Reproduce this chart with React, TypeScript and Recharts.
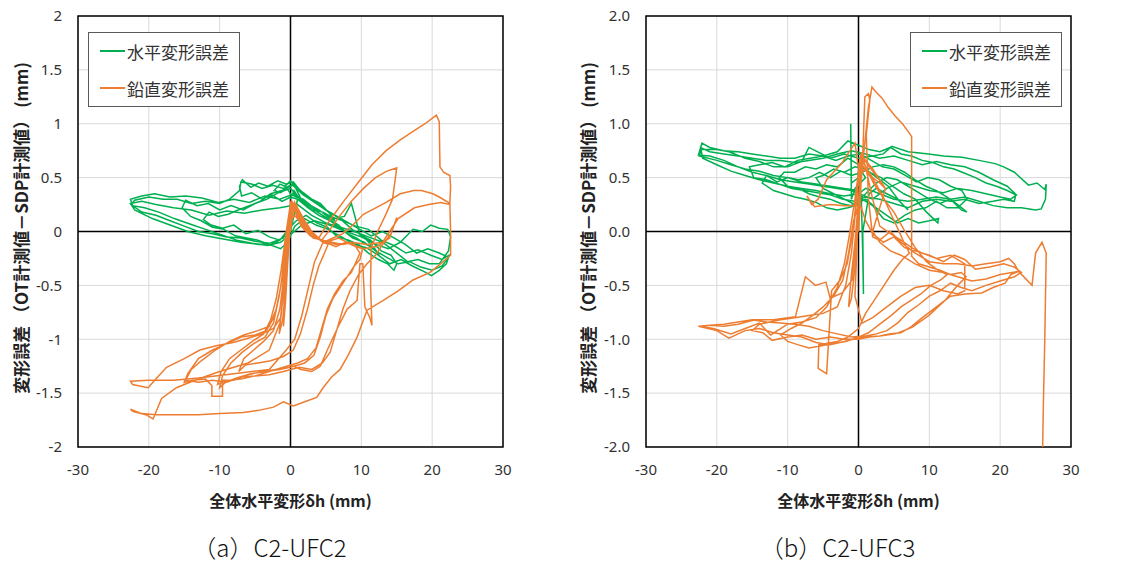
import React from 'react';
import {
  ScatterChart, Scatter, XAxis, YAxis, CartesianGrid,
  ReferenceLine, ReferenceArea
} from 'recharts';

const GREEN = '#00B050';
const ORANGE = '#ED7D31';

const xTicks = [-30, -20, -10, 0, 10, 20, 30];
const yTicks = [-2, -1.5, -1, -0.5, 0, 0.5, 1, 1.5, 2];
const legendLabels = ['水平変形誤差', '鉛直変形誤差'];
const captions = ['（a）C2-UFC2', '（b）C2-UFC3'];
const xTitle = '全体水平変形δh (mm)';
const yTitle = '変形誤差 （OT計測値－SDP計測値） (mm)';

type Pt = [number, number];

// (a) C2-UFC2 horizontal error
const ufc2Horizontal: Pt[] = [
  [0, 0.3], [0.5, 0.38], [1, 0.33], [1.8, 0.28], [2.5, 0.24], [1.5, 0.3], [0.6, 0.42], [0, 0.47], [-0.8, 0.42], [-1.5, 0.44], [-2.3, 0.38], [-1.4, 0.36], [-0.5, 0.4], [0, 0.35],
  [0.8, 0.32], [1.8, 0.3], [2.9, 0.24], [4, 0.2], [5.2, 0.14], [6.3, 0.1], [5.5, 0.17], [4.2, 0.26], [3, 0.3], [1.6, 0.36], [0.4, 0.46], [-0.6, 0.44], [-1.8, 0.47], [-3.2, 0.42], [-4.5, 0.45], [-5.6, 0.41], [-6.8, 0.48], [-7.2, 0.42], [-6.9, 0.33], [-5.5, 0.36], [-4, 0.3], [-2.6, 0.34], [-1.2, 0.28], [0, 0.32],
  [1, 0.3], [2.4, 0.26], [3.8, 0.18], [5.3, 0.12], [6.8, 0.06], [8, -0.02], [9.3, -0.06], [10.6, -0.12], [11.8, -0.15], [12.5, -0.22], [11.6, -0.14], [10.2, -0.04], [8.7, 0.02], [7, 0.12], [5.4, 0.18], [3.6, 0.26], [1.8, 0.34], [0.3, 0.43], [-1.2, 0.38], [-2.8, 0.35], [-4.3, 0.28], [-5.8, 0.24], [-7.4, 0.2], [-8.8, 0.16], [-10.2, 0.14], [-11.5, 0.18], [-12.3, 0.11], [-11.2, 0.06], [-9.6, 0.03], [-8, 0.06], [-6.3, -0.02], [-4.6, 0.01], [-3, -0.05], [-1.5, -0.08], [-0.3, 0.02],
  [0.8, 0.1], [2.2, 0.15], [3.7, 0.08], [5.2, 0.04], [6.6, -0.05], [8.2, -0.08], [9.6, -0.12], [11, -0.2], [12.4, -0.26], [13.7, -0.3], [14.6, -0.36], [15, -0.3], [14.2, -0.22], [12.8, -0.18], [11.3, -0.08], [9.8, -0.03], [8.6, 0.26], [7.6, 0.14], [6.2, 0.12], [4.6, 0.18], [3.1, 0.2], [1.4, 0.3], [0, 0.4], [-1.7, 0.36], [-3.3, 0.3], [-5, 0.26], [-6.7, 0.2], [-8.4, 0.24], [-10, 0.2], [-11.6, 0.26], [-13.2, 0.24], [-14.8, 0.29], [-15.3, 0.22], [-14.1, 0.14], [-12.6, 0.1], [-11, 0.04], [-9.4, 0.02], [-7.8, -0.04], [-6.2, -0.06], [-4.6, -0.08], [-3, -0.12], [-1.4, -0.16], [-0.4, -0.1],
  [0.6, 0.05], [2, 0.12], [3.6, 0.06], [5.3, 0.02], [7.2, -0.05], [9, -0.12], [10.7, -0.15], [12.4, -0.22], [14, -0.3], [15.6, -0.26], [17.2, -0.32], [18.8, -0.37], [19.9, -0.41], [21, -0.36], [22, -0.3], [22.4, -0.22], [21.4, -0.26], [19.8, -0.22], [18, -0.17], [16.3, -0.2], [14.6, -0.13], [12.8, -0.08], [11, 0.02], [9.2, 0.05], [7.4, 0.1], [5.6, 0.14], [3.8, 0.2], [2, 0.28], [0.5, 0.35], [-1.5, 0.3], [-3.6, 0.33], [-5.8, 0.27], [-8, 0.3], [-10.2, 0.27], [-12.5, 0.31], [-14.8, 0.33], [-17, 0.32], [-19.2, 0.35], [-21, 0.33], [-22.6, 0.3], [-22.3, 0.24], [-20.6, 0.22], [-18.6, 0.18], [-16.4, 0.12], [-14.2, 0.07], [-12, 0.02], [-9.8, -0.03], [-7.6, -0.08], [-5.4, -0.11], [-3.2, -0.13], [-1.4, -0.1], [0, -0.03],
  [1.6, 0.06], [3.4, 0.1], [5.5, 0.06], [7.8, 0], [10, -0.05], [12, -0.12], [13.8, -0.16], [15.5, -0.1], [17.3, 0.02], [18.6, 0], [19.8, 0.06], [21, 0.03], [22.2, 0.02], [22.6, -0.05], [22.3, -0.18], [21, -0.3], [19.6, -0.3], [18, -0.26], [16.5, -0.28], [15, -0.2], [13, -0.1], [11, -0.05], [9, 0], [7, 0.04], [5, 0.08], [3, 0.15], [1, 0.25], [-1.5, 0.22], [-4, 0.2], [-6.5, 0.17], [-9, 0.19], [-11.5, 0.15], [-14, 0.2], [-16.5, 0.22], [-19, 0.25], [-21, 0.28], [-22.6, 0.26], [-22, 0.2], [-19.5, 0.12], [-17, 0.06], [-14.5, 0], [-12, -0.04], [-9.5, -0.07], [-7, -0.1], [-4.5, -0.12], [-2, -0.1], [0, 0],
  [1, 0.3], [2.5, 0.22], [4, 0.15], [5.6, 0.1], [7.2, 0.02], [8.8, -0.06], [10.4, -0.1], [12, -0.18], [13.6, -0.24], [15.2, -0.3], [16.8, -0.28], [18.4, -0.33], [20, -0.36], [21.4, -0.32], [22.3, -0.24], [21, -0.2], [19.4, -0.16], [17.8, -0.2], [16.2, -0.12], [14.6, -0.06], [13, 0], [11.4, -0.04], [9.8, 0.02], [8.2, 0.08], [6.6, 0.14], [5, 0.2], [3.4, 0.28], [1.8, 0.36], [0.4, 0.44], [-1, 0.4], [-2.5, 0.43], [-4, 0.4], [-5.5, 0.44], [-7, 0.46], [-7.2, 0.38], [-8.6, 0.3], [-10, 0.26], [-12, 0.28], [-14, 0.26], [-16, 0.3], [-18, 0.3], [-20, 0.32], [-22, 0.29], [-22.5, 0.25], [-21, 0.18], [-19, 0.15], [-17, 0.1], [-15, 0.05], [-13, 0], [-11, -0.02], [-9, -0.05], [-7, -0.06], [-5, -0.09], [-3, -0.11], [-1, -0.06], [0, 0.05],
];

// (a) C2-UFC2 vertical error
const ufc2Vertical: Pt[] = [
  [0, 0], [0.3, 0.15], [0.6, 0.27], [1, 0.2], [1.6, 0.08], [2.2, 0], [1.5, 0.05], [0.8, 0.2], [0.3, 0.25], [-0.2, 0], [-0.5, -0.3], [-0.8, -0.6], [-1.1, -0.82], [-1.6, -0.95], [-1.2, -0.7], [-0.7, -0.35], [-0.2, 0.05], [0.2, 0.28],
  [0.4, 0.22], [1.2, 0.1], [0.6, 0.15], [0, 0.1], [-0.4, -0.3], [-0.7, -0.65], [-1, -0.88], [-0.6, -0.5], [-0.2, -0.1], [0.2, 0.28],
  [0.8, 0.22], [1.6, 0.1], [2.5, 0.02], [3.5, -0.05], [4.6, -0.1], [5.3, -0.12], [4.8, -0.2], [4, -0.32], [3.2, -0.5], [2.4, -0.72], [1.4, -0.95], [0.4, -1.1], [-1, -1.16], [-2.8, -1.2], [-4.6, -1.22], [-6.4, -1.24], [-7.3, -1.3], [-6.6, -1.18], [-5.2, -1.1], [-3.8, -1.02], [-2.4, -0.92], [-1.5, -0.72], [-1, -0.45], [-0.5, -0.1], [0, 0.25],
  [0.8, 0.25], [1.6, 0.12], [2.6, 0.02], [3.8, -0.06], [5, -0.1], [6.4, -0.14], [7.8, -0.1], [9.2, -0.14], [10.2, -0.16], [9.8, -0.26], [9, -0.32], [8.2, -0.4], [7.2, -0.5], [6, -0.62], [5, -0.78], [4.2, -0.98], [3.3, -1.15], [2, -1.22], [0.5, -1.25], [-1.5, -1.28], [-3.5, -1.3], [-5.6, -1.32], [-7.6, -1.36], [-9.2, -1.4], [-10, -1.45], [-9.6, -1.34], [-8.4, -1.22], [-6.8, -1.12], [-5.2, -1.04], [-3.6, -0.98], [-2.4, -0.85], [-1.6, -0.6], [-0.9, -0.3], [-0.3, 0.05], [0.1, 0.27],
  [0.6, 0.2], [1.5, 0.05], [2.8, -0.04], [4.2, -0.08], [5.8, -0.1], [7.4, -0.12], [8.8, -0.1], [9.8, -0.2], [8.6, -0.38], [7.4, -0.46], [6.2, -0.58], [5.2, -0.72], [4.4, -0.9], [3.6, -1.08], [2.4, -1.18], [1, -1.22], [-1, -1.26], [-3, -1.3], [-5, -1.34], [-7, -1.37], [-9, -1.38], [-10.3, -1.42], [-9.8, -1.3], [-8.6, -1.18], [-7, -1.1], [-5.4, -1.02], [-3.8, -0.95], [-2.8, -0.82], [-2, -0.62], [-1.3, -0.35], [-0.6, 0], [0, 0.26],
  [0.7, 0.22], [1.8, 0.08], [3, -0.02], [4.4, -0.08], [5.6, 0.02], [7, 0.15], [8.6, 0.28], [10.3, 0.4], [12, 0.5], [13.6, 0.56], [15, 0.59], [14.4, 0.3], [13.4, 0.15], [12.3, 0], [11.4, -0.15], [11.3, -0.5], [11.5, -0.87], [11.2, -0.8], [10.5, -0.7], [10.2, -0.3], [9.8, -0.3], [9.4, -0.64], [8, -0.72], [6.6, -0.9], [5.2, -1.1], [4.2, -1.25], [3, -1.3], [1.5, -1.28], [0, -1.24], [-2, -1.28], [-4, -1.3], [-6, -1.33], [-8, -1.38], [-9.6, -1.38], [-9.6, -1.53], [-11.1, -1.53], [-11.1, -1.43], [-12, -1.37], [-13.8, -1.38], [-15, -1.4], [-14.5, -1.32], [-13, -1.18], [-11, -1.1], [-9, -1.04], [-7, -0.98], [-5, -0.96], [-3.4, -0.92], [-2.2, -0.78], [-1.4, -0.52], [-0.8, -0.2], [-0.2, 0.15], [0.2, 0.28],
  [0.8, 0.2], [2, 0.04], [3.4, -0.06], [5, -0.1], [6.8, -0.06], [8.6, -0.12], [10.4, -0.16], [12.2, -0.14], [14, -0.06], [15, 0.13], [14.2, -0.02], [13, -0.12], [12, -0.22], [10.8, -0.3], [9.6, -0.4], [8.4, -0.55], [7.4, -0.72], [6.5, -0.92], [5.6, -1.12], [4.5, -1.22], [3, -1.28], [1.2, -1.26], [-1, -1.3], [-3, -1.33], [-5, -1.34], [-7, -1.35], [-9, -1.4], [-11, -1.38], [-13, -1.4], [-14.8, -1.38], [-14, -1.28], [-12.6, -1.2], [-10.6, -1.1], [-8.6, -1.02], [-6.6, -0.96], [-4.6, -0.92], [-3, -0.88], [-2, -0.72], [-1.2, -0.45], [-0.6, -0.1], [0, 0.27],
  [0.8, 0.24], [2, 0.1], [3, 0], [4, -0.06], [5.5, 0.1], [7.5, 0.28], [9.5, 0.45], [11.5, 0.62], [13.5, 0.75], [15.5, 0.85], [17.3, 0.93], [19, 1], [20, 1.05], [20.6, 1.08], [21, 1.02], [21.1, 0.6], [21.6, 0.55], [22.5, 0.52], [22.6, 0.42], [22.5, 0.26], [21, 0.32], [20.1, 0.35], [18.5, 0.38], [17.4, 0.38], [15.5, 0.35], [13.5, 0.27], [11.5, 0.2], [10.3, 0.16], [8.8, 0.06], [7.4, -0.02], [6, -0.06], [4.6, -0.1], [3.4, -0.28], [2.6, -0.5], [1.6, -0.78], [0.6, -1], [-0.6, -1.1], [-3, -1.28], [-8, -1.32], [-13, -1.36], [-16.5, -1.38], [-20, -1.38], [-22.6, -1.39], [-22.3, -1.42], [-20.1, -1.45], [-19.3, -1.39], [-17.5, -1.26], [-15, -1.18], [-12.8, -1.1], [-10.5, -1.06], [-8.1, -1.03], [-6, -0.99], [-4, -0.95], [-2.4, -0.9], [-1.4, -0.8], [-0.9, -0.5], [-0.4, -0.1], [0.1, 0.25],
  [1, 0.15], [2, 0.02], [3.2, -0.06], [4.6, -0.08], [6.4, -0.12], [8.6, -0.1], [10.8, -0.12], [13, -0.1], [15.2, 0.12], [17.5, 0.22], [19.5, 0.25], [21.2, 0.27], [22.5, 0.25], [22.6, 0], [22.6, -0.22], [21.2, -0.3], [19.7, -0.38], [17.3, -0.45], [15.2, -0.55], [13.1, -0.64], [10.8, -0.73], [9.4, -0.98], [8.2, -1.14], [7, -1.28], [5.8, -1.35], [4.6, -1.45], [3.7, -1.54], [2, -1.58], [0.4, -1.62], [-1, -1.58], [-2.4, -1.63], [-4.5, -1.66], [-6.7, -1.68], [-10, -1.69], [-13, -1.7], [-16, -1.7], [-19, -1.7], [-21, -1.69], [-22.6, -1.65], [-22.2, -1.67], [-20.4, -1.7], [-19.4, -1.74], [-18.2, -1.55], [-16.1, -1.45], [-13.5, -1.38], [-10, -1.3], [-6, -1.22], [-3, -1.1], [-1.5, -0.85], [-0.8, -0.5], [-0.3, -0.1], [0.1, 0.2],
];

// (b) C2-UFC3 horizontal error
const ufc3Horizontal: Pt[] = [
  [0, 0.45], [0.5, 0.55], [1, 0.5], [-0.5, 0.4], [-1, 0.3], [-1.1, 1], [-1, 0.45], [0, 0.5], [0.4, 0.3], [0.6, -0.2], [0.7, -0.58], [0.6, 0], [1.5, 0.35],
  [2.5, 0.4], [4, 0.35], [5.5, 0.3], [7, 0.2], [5.8, 0.28], [4.2, 0.42], [2.6, 0.5], [1, 0.58], [-0.5, 0.6], [-2, 0.55], [-3.5, 0.58], [-5, 0.52], [-6, 0.5], [-5, 0.4], [-3.5, 0.35], [-2, 0.3], [-0.5, 0.25],
  [1, 0.3], [2.5, 0.22], [4, 0.15], [5.5, 0.08], [7, 0.12], [8.5, 0.08], [10, 0.1], [11.3, 0.12], [11.2, 0.08], [9.6, 0.18], [8, 0.3], [6.4, 0.35], [4.8, 0.42], [3.2, 0.5], [1.5, 0.55], [0, 0.62], [-1.5, 0.68], [-3, 0.6], [-4.5, 0.62], [-6, 0.58], [-7.5, 0.6], [-9, 0.55], [-10.5, 0.55], [-11.2, 0.5], [-10, 0.42], [-8.5, 0.4], [-7, 0.35], [-5.5, 0.32], [-4, 0.3], [-2.5, 0.26], [-1, 0.24],
  [1, 0.35], [2.5, 0.45], [4, 0.5], [5.5, 0.48], [7, 0.42], [8.5, 0.36], [10, 0.3], [11.5, 0.26], [13, 0.3], [14.5, 0.2], [15.3, 0.18], [14, 0.25], [12.5, 0.32], [11, 0.38], [9.5, 0.42], [8, 0.48], [6.5, 0.55], [5, 0.6], [3.5, 0.62], [2, 0.6], [0.5, 0.55], [-1, 0.52], [-2.5, 0.56], [-4, 0.5], [-5.5, 0.55], [-7, 0.5], [-8.5, 0.48], [-10, 0.5], [-11.5, 0.46], [-13, 0.52], [-13.6, 0.45], [-12, 0.38], [-10.5, 0.35], [-9, 0.32], [-7.5, 0.3], [-6, 0.27], [-4.5, 0.22], [-3, 0.2], [-1.5, 0.22], [0, 0.25],
  [0.5, 0.3], [2, 0.24], [3.5, 0.12], [5, 0.08], [6.5, 0.15], [8, 0.2], [9.5, 0.22], [11, 0.28], [12.5, 0.22], [14, 0.22], [15.3, 0.3], [14.6, 0.38], [13, 0.42], [11.4, 0.48], [9.8, 0.5], [8.2, 0.46], [6.6, 0.52], [5, 0.58], [3.4, 0.6], [1.8, 0.66], [0.2, 0.72], [-1.5, 0.7], [-3.2, 0.66], [-5, 0.7], [-6.8, 0.68], [-8.6, 0.66], [-10.4, 0.6], [-12.2, 0.64], [-14, 0.62], [-15.4, 0.6], [-14.8, 0.5], [-13, 0.48], [-11.2, 0.44], [-9.4, 0.4], [-7.6, 0.38], [-5.8, 0.36], [-4, 0.34], [-2.2, 0.3], [-0.6, 0.28],
  [1, 0.32], [3, 0.3], [5, 0.26], [7, 0.22], [9, 0.28], [11, 0.3], [13, 0.28], [15, 0.3], [17, 0.26], [19, 0.28], [20.5, 0.3], [22, 0.28], [22.2, 0.34], [21, 0.38], [19.5, 0.42], [18, 0.45], [16.5, 0.5], [15, 0.54], [13.5, 0.58], [12, 0.6], [10.5, 0.64], [9, 0.66], [7.5, 0.7], [6, 0.72], [4.5, 0.78], [3, 0.74], [1.5, 0.76], [0, 0.8], [-1.5, 0.84], [-3, 0.74], [-5, 0.7], [-7, 0.72], [-9, 0.68], [-11, 0.68], [-13, 0.7], [-15, 0.72], [-17, 0.74], [-19, 0.75], [-21, 0.78], [-22.1, 0.82], [-22.6, 0.71], [-21, 0.7], [-19, 0.66], [-17, 0.6], [-15, 0.55], [-13, 0.52], [-11, 0.48], [-9, 0.46], [-7, 0.44], [-5, 0.42], [-3, 0.4], [-1, 0.38],
  [2, 0.3], [4, 0.4], [6, 0.46], [8, 0.42], [10, 0.38], [12, 0.36], [14, 0.4], [16, 0.38], [18, 0.35], [20, 0.32], [21.5, 0.3], [22.3, 0.34], [21, 0.42], [19, 0.48], [17, 0.55], [15, 0.6], [13, 0.62], [11, 0.65], [9, 0.62], [7, 0.66], [5, 0.7], [3, 0.68], [1, 0.72], [-1, 0.75], [-3, 0.72], [-5, 0.68], [-7, 0.66], [-9, 0.64], [-11, 0.66], [-13, 0.66], [-15, 0.68], [-17, 0.7], [-19, 0.72], [-21, 0.74], [-22.3, 0.78], [-22, 0.68], [-20, 0.62], [-18, 0.56], [-16, 0.52], [-14, 0.48], [-12, 0.45], [-10, 0.42], [-8, 0.4], [-6, 0.38], [-4, 0.35], [-2, 0.33], [0, 0.35],
  [1, 0.4], [3, 0.35], [5, 0.3], [7, 0.28], [9, 0.3], [11, 0.32], [13, 0.3], [15, 0.32], [17, 0.28], [19, 0.24], [21, 0.22], [23, 0.22], [25, 0.2], [25.8, 0.21], [26.4, 0.3], [26.5, 0.44], [26.3, 0.39], [25.2, 0.45], [24, 0.43], [22, 0.55], [20.5, 0.6], [19.3, 0.63], [17, 0.66], [14.6, 0.69], [12, 0.7], [9.9, 0.72], [7, 0.74], [4.7, 0.79], [3.5, 0.72], [2, 0.7], [0, 0.68], [-2, 0.72], [-4, 0.68], [-7, 0.78], [-8, 0.65], [-10, 0.6], [-12, 0.6], [-14, 0.65], [-16, 0.68], [-18.3, 0.74], [-20, 0.76], [-22.2, 0.76], [-22.5, 0.7], [-20, 0.66], [-18, 0.62], [-16, 0.58], [-14, 0.56], [-12, 0.52], [-10, 0.5], [-8, 0.46], [-6, 0.44], [-4, 0.42], [-2, 0.4], [0, 0.38],
];

// (b) C2-UFC3 vertical error
const ufc3Vertical: Pt[] = [
  [0, 0], [0.3, 0.35], [0.5, 0.7], [1, 0.6], [2, 0.5], [3, 0.45], [3.8, 0.4], [3, 0.48], [2, 0.58], [1, 0.66], [0.4, 0.72], [0.1, 0.3], [-0.2, -0.1], [-0.6, -0.4], [-1, -0.62], [-1.4, -0.7], [-1, -0.4], [-0.5, -0.1], [0, 0.3],
  [0.5, 0.62], [1.2, 0.55], [2.4, 0.45], [3.5, 0.32], [4.6, 0.16], [5.6, 0.02], [6.4, -0.1], [7.2, -0.2], [6.2, -0.26], [5, -0.36], [3.6, -0.5], [2.4, -0.62], [1, -0.76], [0, -0.9], [-1.5, -0.98], [-3, -1.02], [-4.6, -1.04], [-5.6, -1.05], [-5.7, -1.27], [-4.5, -1.32], [-3.8, -0.55], [-2.6, -0.45], [-1.6, -0.3], [-0.8, 0], [-0.3, 0.3], [0.3, 0.7],
  [1, 0.6], [2.2, 0.44], [3.6, 0.3], [5, 0.18], [6.4, 0.02], [8, -0.15], [9.6, -0.28], [11, -0.35], [12.5, -0.4], [11.6, -0.45], [10.2, -0.5], [8.8, -0.58], [7.4, -0.64], [6, -0.7], [4.6, -0.78], [3, -0.86], [1.4, -0.94], [0, -0.98], [-1.8, -1.02], [-3.5, -1.04], [-5.2, -1.06], [-7, -1.08], [-8.6, -1.05], [-10, -1.02], [-11, -0.96], [-9.5, -0.9], [-8, -0.85], [-6.5, -0.78], [-5, -0.7], [-3.5, -0.6], [-2.2, -0.45], [-1.4, -0.2], [-0.7, 0.1], [0, 0.24],
  [-2, 0.24], [-4, 0.25], [-6.2, 0.23], [-7.3, 0.33], [-6.6, 0.25], [-5.7, 0.3], [-4.5, 0.48], [-2.4, 0.63], [-0.5, 0.82], [0.2, 0.5],
  [1, 0.6], [2, 0.3], [3, 0.05], [4.5, -0.02], [6, -0.08], [7.5, -0.15], [9, -0.2], [11, -0.25], [13, -0.22], [15, -0.3], [15, -0.55], [14, -0.58], [12, -0.55], [10, -0.5], [8, -0.52], [6, -0.6], [4, -0.7], [2, -0.8], [0.5, -0.85], [-0.5, -0.6], [0, 0.2],
  [0.7, 0.7], [1.4, 1.15], [1.9, 1.34], [2.4, 1.3], [3.3, 1.24], [4.2, 1.15], [5.2, 1.07], [6.2, 1], [7.1, 0.92], [7.5, 0.88], [7.5, 0.3], [7.5, -0.23], [8.5, -0.3], [10, -0.33], [11.5, -0.36], [13, -0.4], [14.5, -0.38], [15.2, -0.42], [14, -0.5], [12.2, -0.64], [10.6, -0.72], [9, -0.8], [7.5, -0.88], [6, -0.94], [4.5, -0.95], [3, -0.97], [1.5, -0.98], [0, -1], [-2, -1], [-4, -0.98], [-6, -1], [-8, -0.96], [-10, -0.98], [-12.2, -1.01], [-13.5, -0.94], [-15, -0.92], [-14, -0.86], [-12.5, -0.84], [-11, -0.82], [-9, -0.8], [-7, -0.78], [-5, -0.76], [-3, -0.7], [-1.8, -0.5], [-1, -0.2], [-0.4, 0.2], [0.2, 0.6],
  [0.6, 0.72], [0.9, 1.25], [1.4, 1.28], [1.6, 1.22], [1.1, 0.9], [1.4, 0.3], [2, -0.05], [3, -0.08], [4.5, 0], [6, -0.1], [8, -0.2], [10, -0.28], [12, -0.3], [14, -0.3], [16, -0.32], [18, -0.3], [20, -0.28], [21.2, -0.25], [22, -0.3], [22.6, -0.37], [21.5, -0.4], [20.7, -0.48], [19, -0.52], [17.4, -0.57], [15, -0.58], [13, -0.6], [12.2, -0.64], [9.9, -0.78], [7.55, -0.89], [5.2, -0.95], [3, -0.97], [0.5, -0.98], [-2, -1.02], [-4, -1.05], [-6, -1.03], [-8, -0.98], [-10, -0.96], [-12, -0.94], [-14, -0.9], [-16, -0.92], [-18.3, -0.99], [-20, -0.92], [-22.6, -0.88], [-21, -0.87], [-19, -0.88], [-17, -0.86], [-14.6, -0.82], [-12, -0.82], [-8.9, -0.79], [-7.5, -0.42], [-6.1, -0.5], [-4.6, -0.47], [-4, -0.62], [-2.3, -0.57], [-0.9, -0.45], [-0.4, -0.1], [0, 0.3],
  [1, 0.1], [2, -0.02], [3.5, -0.1], [5, -0.05], [6.5, -0.15], [8, -0.18], [10, -0.22], [12, -0.28], [13.5, -0.22], [15, -0.26], [16.5, -0.35], [18.5, -0.33], [20.5, -0.3], [22, -0.33], [23, -0.38], [22, -0.42], [20, -0.46], [18, -0.5], [16, -0.55], [14.5, -0.52], [13, -0.48], [11.5, -0.55], [10, -0.6], [8.5, -0.68], [7, -0.75], [5.5, -0.85], [4, -0.92], [2.5, -0.95], [1, -0.97], [-1, -0.98], [-3, -0.95], [-5, -0.92], [-7, -0.88], [-9, -0.86], [-11, -0.85], [-13, -0.84], [-15, -0.82], [-17, -0.84], [-19, -0.86], [-21, -0.87], [-22.4, -0.88], [-20.5, -0.9], [-18, -0.95], [-16, -0.9], [-14, -0.85], [-12.4, -0.96], [-10, -0.86], [-8, -0.84], [-6, -0.8], [-4.5, -0.7], [-3, -0.52], [-2, -0.3], [-1.2, 0], [-0.5, 0.3], [0.3, 0.7],
  [0.5, 0.7], [1.5, 0.6], [2.5, 0.52], [3.8, 0.4], [2, 0], [3, -0.1], [4.5, -0.18], [6, -0.22], [8, -0.3], [10, -0.36], [12, -0.38], [14, -0.42], [16, -0.46], [18, -0.44], [20, -0.4], [22.6, -0.37], [24.5, -0.5], [25, -0.2], [25.9, -0.1], [26.5, -0.2], [26.3, -1], [26.1, -1.6], [26, -2],
];

const toPoints = (pts: Pt[]) => pts.map(([x, y]) => ({ x, y }));
const NoDot = () => <g />;

interface PanelProps {
  left: number;
  yAxisWidth: number;
  rightMargin: number;
  decimals: boolean;
  horizontal: Pt[];
  vertical: Pt[];
  caption: string;
  legendLeft: number;
  titleX: number;
}

const tickStyle = { fill: '#333', fontSize: 15, fontFamily: '"Noto Sans", sans-serif' };

const Panel: React.FC<PanelProps> = ({ left, yAxisWidth, rightMargin, decimals, horizontal, vertical, caption, legendLeft, titleX }) => {
  const plotLeft = left + yAxisWidth;
  const plotRight = left + 562 - rightMargin;
  const plotCenter = (plotLeft + plotRight) / 2;
  return (
    <>
      <div style={{ position: 'absolute', left, top: 0 }}>
        <ScatterChart width={562} height={490} margin={{ top: 16, right: rightMargin, bottom: 13, left: 0 }}>
          <CartesianGrid stroke="#d9d9d9" strokeWidth={1} />
          <XAxis
            type="number" dataKey="x" domain={[-30, 30]} ticks={xTicks}
            height={30} tick={tickStyle} tickLine={false} axisLine={false}
            tickSize={0} tickMargin={17} interval={0}
          />
          <YAxis
            type="number" dataKey="y" domain={[-2, 2]} ticks={yTicks}
            width={yAxisWidth} tick={tickStyle} tickLine={false} axisLine={false}
            tickSize={0} tickMargin={16} interval={0}
            tickFormatter={(v: number) => (decimals ? v.toFixed(1) : String(v))}
          />
          <ReferenceLine x={0} stroke="#000" strokeWidth={1.5} />
          <ReferenceLine y={0} stroke="#000" strokeWidth={1.5} />
          <Scatter
            data={toPoints(horizontal)} fill={GREEN} line={{ stroke: GREEN, strokeWidth: 1.5 }}
            lineType="joint" shape={NoDot} isAnimationActive={false}
          />
          <Scatter
            data={toPoints(vertical)} fill={ORANGE} line={{ stroke: ORANGE, strokeWidth: 1.5 }}
            lineType="joint" shape={NoDot} isAnimationActive={false}
          />
          <ReferenceArea x1={-30} x2={30} y1={-2} y2={2} fill="none" fillOpacity={0} stroke="#000" strokeWidth={1.5} />
        </ScatterChart>
      </div>

      <div style={{
        position: 'absolute', left: legendLeft, top: 32, width: 150, height: 73,
        border: '1px solid #595959', background: '#fff',
        fontFamily: '"Noto Sans CJK JP", sans-serif', fontSize: 17, color: '#333',
      }}>
        {legendLabels.map((label, i) => (
          <div key={label} style={{ position: 'absolute', left: 11, top: 5 + i * 37, height: 26, display: 'flex', alignItems: 'center' }}>
            <span style={{ display: 'inline-block', width: 25, height: 2, background: i === 0 ? GREEN : ORANGE }} />
            <span style={{ marginLeft: 2 }}>{label}</span>
          </div>
        ))}
      </div>

      <div style={{
        position: 'absolute', left: titleX, top: 228, transform: 'translate(-50%, -50%) rotate(-90deg)',
        whiteSpace: 'pre', fontFamily: '"Noto Sans CJK JP", sans-serif', fontWeight: 700, fontSize: 17, color: '#222',
      }}>{yTitle}</div>

      <div style={{
        position: 'absolute', left: plotCenter, top: 500, transform: 'translate(-50%, -50%)',
        whiteSpace: 'nowrap', fontFamily: '"Noto Sans CJK JP", sans-serif', fontWeight: 700, fontSize: 16, color: '#222',
      }}>{xTitle}</div>

      <div style={{
        position: 'absolute', left: plotCenter - 21, top: 531, width: 220, marginLeft: -110,
        textAlign: 'center', lineHeight: '32px',
        whiteSpace: 'nowrap', fontFamily: '"Noto Sans CJK JP", sans-serif', fontWeight: 300, fontSize: 24, color: '#111',
      }}>{caption}</div>
    </>
  );
};

export default function App() {
  return (
    <div style={{ position: 'absolute', left: 0, top: 0, width: 1124, height: 564, background: '#fff', overflow: 'hidden' }}>
      <Panel left={0} yAxisWidth={78} rightMargin={59} decimals={false}
        horizontal={ufc2Horizontal} vertical={ufc2Vertical} caption={captions[0]} legendLeft={88} titleX={20} />
      <Panel left={562} yAxisWidth={84} rightMargin={53} decimals={true}
        horizontal={ufc3Horizontal} vertical={ufc3Vertical} caption={captions[1]} legendLeft={910} titleX={587} />
    </div>
  );
}
